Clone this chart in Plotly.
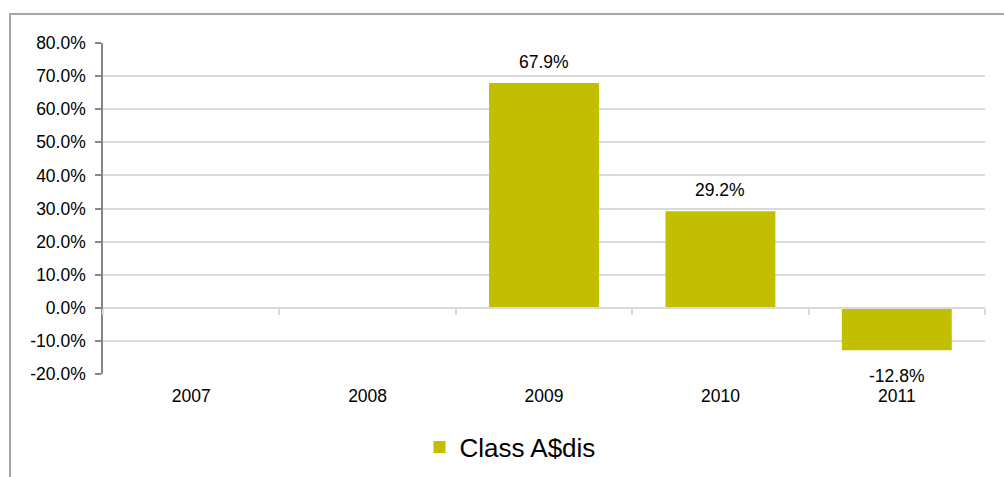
import plotly.graph_objects as go

categories = ["2007", "2008", "2009", "2010", "2011"]
values = [None, None, 67.9, 29.2, -12.8]
series_name = "Class A$dis"
y_ticks = [-20, -10, 0, 10, 20, 30, 40, 50, 60, 70, 80]

BAR = "#C1BF00"
FONT = "Liberation Sans, Arial, sans-serif"
W, H = 1004, 477
L, R, T, B = 103, 19, 43, 103
pw, ph = W - L - R, H - T - B
ymin, ymax = -20, 80
xrange_ = [-0.5, len(categories) - 0.5]

fig = go.Figure()
fig.add_trace(go.Bar(x=categories, y=values, name=series_name,
                     marker=dict(color=BAR, line=dict(width=0)),
                     showlegend=True, xaxis="x", yaxis="y"))
# invisible helper trace to populate the axis-at-zero overlay
fig.add_trace(go.Scatter(x=categories, y=[0]*len(categories), mode="none",
                         showlegend=False, hoverinfo="skip", xaxis="x2", yaxis="y"))

annotations = []
for i, v in enumerate(values):
    if v is None:
        continue
    pos = v >= 0
    annotations.append(dict(x=i, y=v, xref="x", yref="y", text=f"{v:.1f}%",
                            showarrow=False, yanchor="bottom" if pos else "top",
                            yshift=9 if pos else -14,
                            font=dict(family=FONT, size=17.5, color="#000000")))

zero_pos = (0 - ymin) / (ymax - ymin)

fig.update_layout(
    width=W, height=H, autosize=False,
    margin=dict(l=L, r=R, t=T, b=B, autoexpand=False),
    paper_bgcolor="white", plot_bgcolor="white",
    font=dict(family=FONT, size=17.5, color="#000000"),
    bargap=0.377,
    xaxis=dict(type="category", categoryorder="array", categoryarray=categories,
               range=xrange_, automargin=False,
               showline=False, ticks="", showgrid=False, zeroline=False,
               ticklabelstandoff=9, tickfont=dict(size=17.5)),
    xaxis2=dict(type="category", categoryorder="array", categoryarray=categories,
                range=xrange_, automargin=False,
                overlaying="x", anchor="free", position=zero_pos,
                showline=True, linecolor="#D9D9D9", linewidth=1.5,
                ticks="outside", ticklen=6, tickcolor="#D9D9D9", tickwidth=1.5,
                tickson="boundaries", showticklabels=False, showgrid=False, zeroline=False),
    yaxis=dict(range=[ymin, ymax], tickvals=y_ticks,
               ticktext=[f"{t:.1f}%" for t in y_ticks], automargin=False,
               showgrid=True, gridcolor="#D9D9D9", gridwidth=1.5,
               zeroline=False, showline=True, linecolor="#868686", linewidth=1.5,
               ticks="outside", ticklen=6, tickcolor="#868686", tickwidth=1.5,
               ticklabelstandoff=6, tickfont=dict(size=17.5)),
    legend=dict(orientation="h", xref="container", yref="container",
                x=510 / W, y=1 - 447 / H, xanchor="center", yanchor="middle",
                font=dict(size=26), itemwidth=30, bgcolor="rgba(0,0,0,0)"),
    annotations=annotations,
    shapes=[dict(type="rect", xref="paper", yref="paper",
                 x0=(10 - L) / pw, x1=(W + 20 - L) / pw,
                 y0=-(H + 20 - (T + ph)) / ph, y1=(T + ph - 14) / ph,
                 line=dict(color="#A6A6A6", width=2), fillcolor="rgba(0,0,0,0)",
                 layer="below")],
)

fig.write_html("out.html", config={"displayModeBar": False},
               post_script="document.body.style.margin='0';")
